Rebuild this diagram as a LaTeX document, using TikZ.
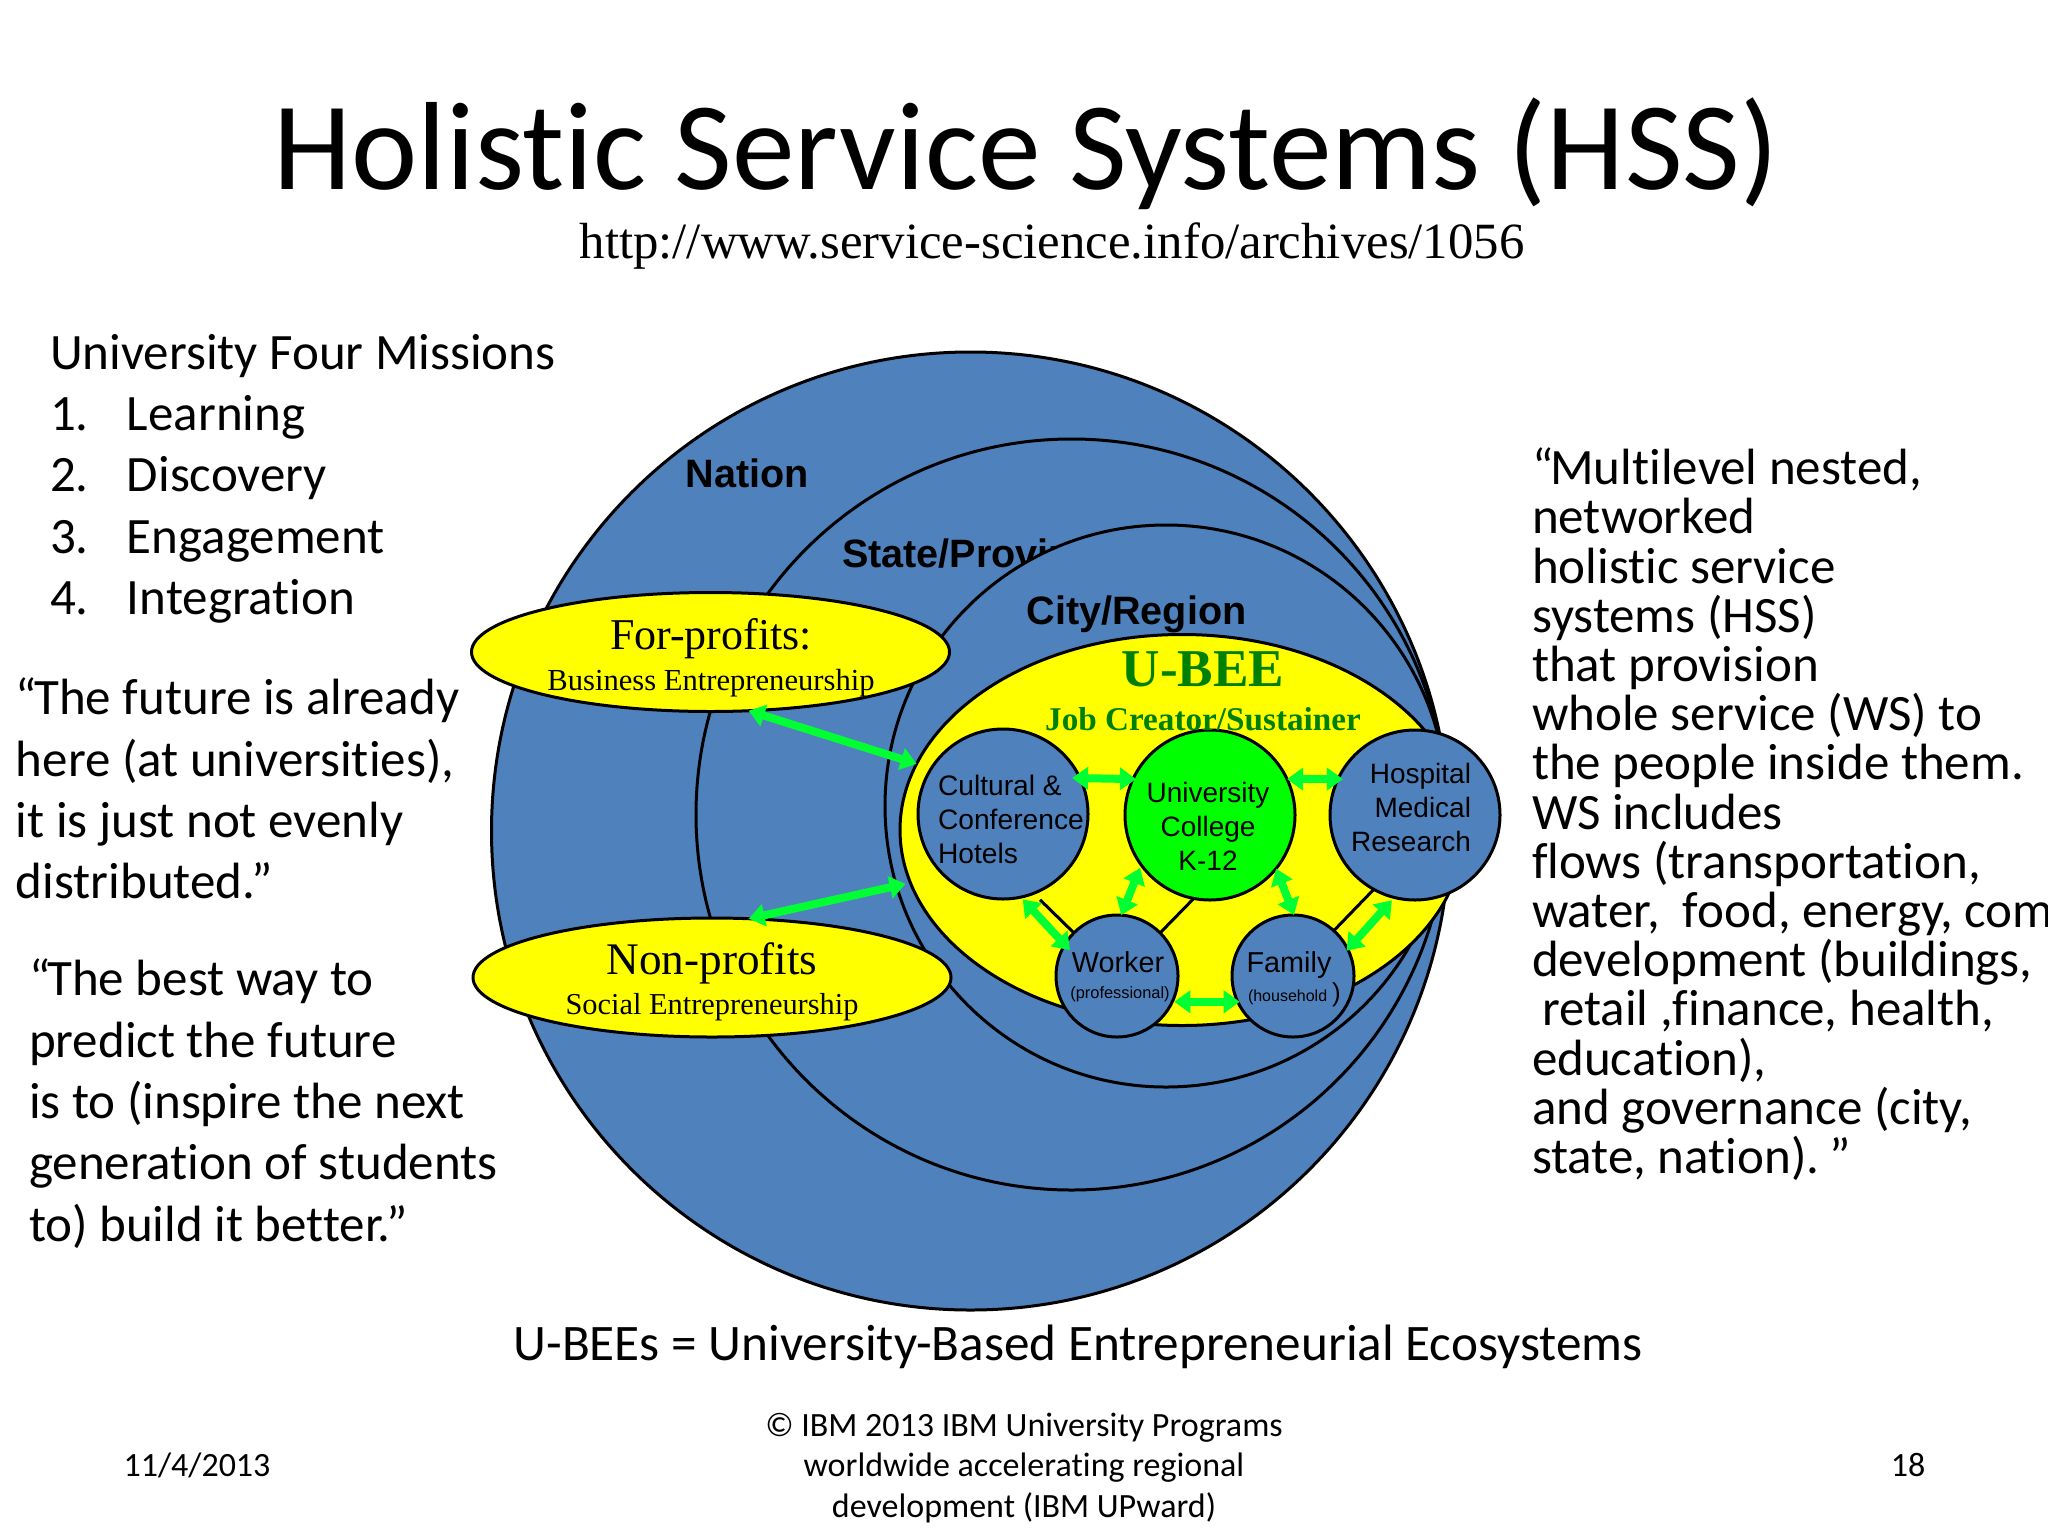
\documentclass[tikz,border=0pt]{standalone}
\usepackage{fontspec}
\setmainfont{Carlito}[Ligatures=CommonOff]
\newfontfamily\arl{Liberation Sans}
\newfontfamily\gar{Liberation Serif}
\usetikzlibrary{shapes.geometric,arrows.meta}
\definecolor{hssblue}{RGB}{79,129,189}
\definecolor{hssyellow}{RGB}{255,255,0}
\definecolor{hssgreen}{RGB}{0,255,0}
\definecolor{arrowgreen}{RGB}{0,255,51}
\definecolor{ubeegreen}{RGB}{0,128,0}
\newcommand{\fsz}[1]{\fontsize{#1}{#1}\selectfont}
\newcommand{\fsl}[2]{\fontsize{#1}{#2}\selectfont}
\tikzset{
  ring/.style={circle,draw=black,fill=hssblue,line width=1.5pt,inner sep=0pt,outer sep=0pt},
  oval/.style={ellipse,draw=black,fill=hssyellow,line width=1.5pt,inner sep=0pt,outer sep=0pt},
  link/.style={draw=black,line width=1.5pt},
  flow/.style={draw=arrowgreen,line width=4pt,{Triangle[length=8pt,width=11pt]}-{Triangle[length=8pt,width=11pt]}},
  txt/.style={inner sep=0pt,outer sep=0pt,text=black},
  lab/.style={txt,anchor=base,font=\arl\fsz{14}}
}
\begin{document}
\begin{tikzpicture}[x=0.5pt,y=-0.5pt]
\path[use as bounding box,fill=white] (0,0) rectangle (2048,1536);
% title
\node[txt,anchor=base,font=\fsz{62.7}] (title) at (1026,189) {Holistic Service Systems (HSS)};
\node[txt,anchor=base,font=\gar\fsz{25.4}] (url) at (1052,258) {http://www.service-science.info/archives/1056};
% left text
\node[txt,anchor=north west,align=left,font=\fsl{25.5}{30.7}] (missions) at (50,334) {University Four Missions\\
\makebox[38.5pt][l]{1.}Learning\\
\makebox[38.5pt][l]{2.}Discovery\\
\makebox[38.5pt][l]{3.}Engagement\\
\makebox[38.5pt][l]{4.}Integration};
\node[txt,anchor=north west,align=left,font=\fsl{25.5}{30.7}] (quotea) at (16,678) {“\kern-1.5pt The future is already\\
here (at universities),\\
it is just not evenly\\
distributed.”};
\node[txt,anchor=north west,align=left,font=\fsl{25.5}{30.7}] (quoteb) at (29,959) {“\kern-1.5pt The best way to\\
predict the future\\
is to (inspire the next\\
generation of students\\
to) build it better.”};
% right text
\node[txt,anchor=north west,align=left,font=\fsl{25.5}{24.6}] (multi) at (1532,448) {“\kern-1.5pt Multilevel nested,\\
networked\\
holistic service\\
systems (HSS)\\
that provision\\
whole service (WS) to\\
the people inside them.\\
WS includes\\
flows (transportation,\\
water,\ \ food, energy, com\\
development (buildings,\\
\hspace*{5pt}retail ,finance, health,\\
education),\\
and governance (city,\\
state, nation).\kern5pt”};
% rings
\node[ring,minimum size=479pt] (nation) at (970.5,831) {};
\node[txt,anchor=base,font=\arl\bfseries\fsz{19.8}] (nationlab) at (747,487) {Nation};
\node[ring,minimum size=375.5pt] (state) at (1071.5,814.5) {};
\node[txt,anchor=base west,font=\arl\bfseries\fsz{19.8}] (statelab) at (842,567) {State/Province};
\node[ring,minimum size=281pt] (city) at (1166,806) {};
\node[txt,anchor=base,font=\arl\bfseries\fsz{19.8}] (citylab) at (1136.5,624) {City/Region};
\node[oval,minimum width=282pt,minimum height=195.5pt] (ubee) at (1182,830) {};
% small circles
\node[ring,minimum size=85pt] (cu) at (1003,814) {};
\node[ring,minimum size=85pt,fill=hssgreen] (un) at (1210,815) {};
\node[ring,minimum size=85pt] (ho) at (1415,815) {};
\node[ring,minimum size=61pt] (wk) at (1117,976) {};
\node[ring,minimum size=61pt] (fa) at (1293,976) {};
% black links
\draw[link,shorten <=4.6pt] (cu.-69.7) -- (wk.135.6);
\draw[link] (un.-101.3) -- (wk.45.7);
\draw[link] (ho.-119.2) -- (fa.48.3);
% side ovals
\node[oval,minimum width=239pt,minimum height=59.5pt] (fp) at (710.5,652) {};
\node[oval,minimum width=239pt,minimum height=59.5pt] (np) at (712,977.5) {};
% labels
\node[txt,anchor=base,font=\gar\fsz{22}] (fplab) at (711,649) {For-profits:};
\node[txt,anchor=base,font=\gar\fsz{15.3}] (fpsub) at (711,690) {Business Entrepreneurship};
\node[txt,anchor=base,font=\gar\fsz{22.6}] (nplab) at (712,974) {Non-profits};
\node[txt,anchor=base,font=\gar\fsz{15.2}] (npsub) at (712,1014) {Social Entrepreneurship};
\node[txt,anchor=base,text=ubeegreen,font=\gar\bfseries\fsz{26.6}] (ubeelab) at (1203,686) {U-BEE};
\node[txt,anchor=base,text=ubeegreen,font=\gar\bfseries\fsz{16.6}] (joblab) at (1203,730) {Job Creator/Sustainer};
\node[txt,anchor=north west,align=left,font=\arl\fsl{14.1}{17}] (culab) at (938,775) {Cultural \&\\Conference\\Hotels};
\node[txt,anchor=north,align=center,font=\arl\fsl{14}{17}] (unlab) at (1208,782) {University\\College\\K-12};
\node[txt,anchor=north east,align=right,font=\arl\fsl{14}{17}] (holab) at (1471,763) {Hospital\\Medical\\Research};
\node[lab,font=\arl\fsz{14.4}] (wklab) at (1118,972) {Worker};
\node[lab,font=\arl\fsz{8.2}] (wksub) at (1120,998) {(professional)};
\node[lab,font=\arl\fsz{14.4}] (falab) at (1289,972) {Family};
\node[lab,anchor=base west,font=\arl\fsz{8}] (fasub) at (1248,1001) {(household\kern2.5pt{\fsz{13})}};
% green flows
\draw[flow] (fp.-57.5) -- (ubee.166.3);
\draw[flow,shorten >=2.5pt] (np.58) -- (ubee.191);
\draw[flow,shorten <=-4pt,shorten >=-1.5pt] (cu.25) -- (un.155);
\draw[flow,shorten >=-2.5pt] (un.25) -- (ho.155);
\draw[flow,shorten <=1.5pt,shorten >=-3.8pt] (cu.-78.2) -- (wk.149.6);
\draw[flow,shorten >=1.5pt] (wk.86.2) -- (un.216.2);
\draw[flow] (un.-39.2) -- (fa.89);
\draw[flow,shorten <=1.9pt,shorten >=-1pt] (ho.-104.3) -- (fa.26.1);
\draw[flow,shorten <=1pt,shorten >=-1pt] (wk.-25.2) -- (fa.205.2);
% bottom
\node[txt,anchor=base,font=\fsz{25.6}] (ubees) at (1078,1360) {U-BEEs = University-Based Entrepreneurial Ecosystems};
\node[txt,anchor=base,align=center,font=\fsl{17}{20.2}] (ibm) at (1024,1517) {© IBM 2013 IBM University Programs\\worldwide accelerating regional\\development (IBM UPward)};
\node[txt,anchor=base,font=\fsz{17}] (date) at (197,1476) {11/4/2013};
\node[txt,anchor=base,font=\fsz{17}] (page) at (1908,1476) {18};
\end{tikzpicture}
\end{document}
